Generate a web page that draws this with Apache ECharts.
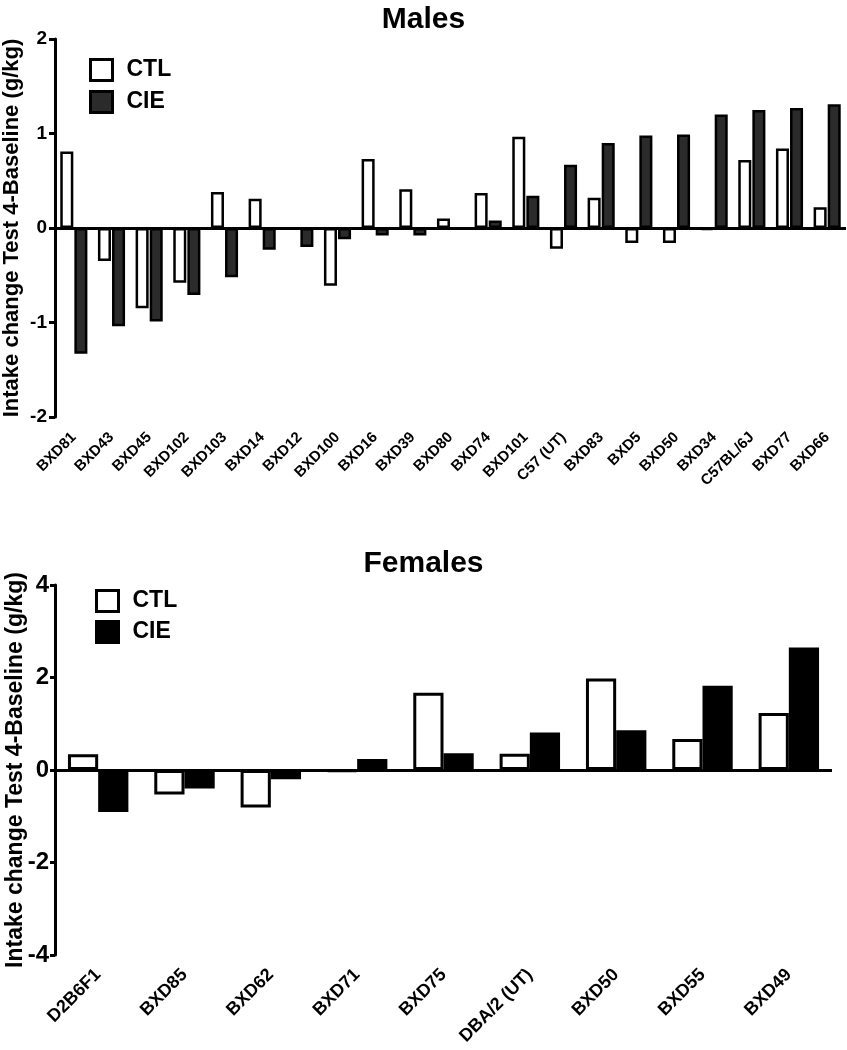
<!DOCTYPE html>
<html><head><meta charset="utf-8">
<script src="https://cdn.jsdelivr.net/npm/echarts@6/dist/echarts.min.js"></script>
<style>html,body{margin:0;padding:0;background:#fff}#c{width:847px;height:1050px}</style>
</head><body><div id="c"></div>
<script>
const maleCats = ['BXD81','BXD43','BXD45','BXD102','BXD103','BXD14','BXD12','BXD100','BXD16','BXD39','BXD80','BXD74','BXD101','C57 (UT)','BXD83','BXD5','BXD50','BXD34','C57BL/6J','BXD77','BXD66'];
const maleCTL = [0.81,-0.35,-0.85,-0.58,0.38,0.31,-0.01,-0.61,0.73,0.41,0.10,0.37,0.965,-0.22,0.32,-0.16,-0.16,-0.02,0.72,0.84,0.22];
const maleCIE = [-1.33,-1.04,-0.99,-0.71,-0.52,-0.23,-0.20,-0.12,-0.08,-0.08,-0.01,0.08,0.34,0.67,0.90,0.98,0.99,1.20,1.25,1.27,1.31];
const femaleCats = ['D2B6F1','BXD85','BXD62','BXD71','BXD75','DBA/2 (UT)','BXD50','BXD55','BXD49'];
const femaleCTL = [0.34,-0.53,-0.81,-0.03,1.67,0.35,1.98,0.67,1.23];
const femaleCIE = [-0.91,-0.40,-0.20,0.24,0.36,0.81,0.86,1.82,2.65];
const maleTicks = [-2,-1,0,1,2];
const femaleTicks = [-4,-2,0,2,4];

const FONT = 'Liberation Sans, Arial, sans-serif';
const yName = 'Intake change Test 4-Baseline (g/kg)';
const chart = echarts.init(document.getElementById('c'));

function yAxis(idx, ticks, interval, nameSize, nameGap, labelSize, labelMargin, tickLen){
  return {
    type:'value', gridIndex:idx, min:ticks[0], max:ticks[ticks.length-1], interval:interval,
    name:yName, nameLocation:'middle', nameGap:nameGap, nameMoveOverlap:false,
    nameTextStyle:{fontFamily:FONT,fontWeight:'bold',fontSize:nameSize,color:'#000'},
    axisLine:{show:true,lineStyle:{color:'#000',width:3}},
    axisTick:{show:true,length:tickLen,lineStyle:{color:'#000',width:3}},
    axisLabel:{fontFamily:FONT,fontWeight:'bold',fontSize:labelSize,color:'#000',margin:labelMargin},
    splitLine:{show:false}
  };
}
function xAxis(idx, cats, fs, margin){
  return {
    type:'category', gridIndex:idx, data:cats, position:'bottom',
    axisLine:{show:false,onZero:false}, axisTick:{show:false},
    axisLabel:{interval:0,rotate:45,fontFamily:FONT,fontWeight:'bold',fontSize:fs,color:'#000',margin:margin}
  };
}
const zeroLine = {silent:true,symbol:'none',label:{show:false},lineStyle:{color:'#000',width:3,type:'solid'},data:[{yAxis:0}]};
const legText = {fontFamily:FONT,fontWeight:'bold',fontSize:23,color:'#000',padding:[0,0,0,9],lineHeight:22};

chart.setOption({
  animation:false,
  backgroundColor:'#fff',
  title:[
    {text:'Males',left:'center',top:0,textStyle:{fontFamily:FONT,fontWeight:'bold',fontSize:30,color:'#000'}},
    {text:'Females',left:'center',top:544,textStyle:{fontFamily:FONT,fontWeight:'bold',fontSize:30,color:'#000'}}
  ],
  legend:[
    {orient:'vertical',left:84,top:53,itemWidth:22,itemHeight:21,itemGap:8,icon:'rect',textStyle:legText,
     data:[{name:'CTL',itemStyle:{color:'#fff',borderColor:'#000',borderWidth:3}},{name:'CIE',itemStyle:{color:'#2b2b2b',borderColor:'#000',borderWidth:3}}]},
    {orient:'vertical',left:90,top:584,itemWidth:22,itemHeight:21,itemGap:7,icon:'rect',textStyle:legText,
     data:[{name:'CTL',itemStyle:{color:'#fff',borderColor:'#000',borderWidth:3}},{name:'CIE',itemStyle:{color:'#000',borderColor:'#000',borderWidth:3}}]}
  ],
  grid:[
    {left:55,right:1,top:39,bottom:633,containLabel:false,outerBoundsMode:'none'},
    {left:55,right:15,top:585,bottom:95,containLabel:false,outerBoundsMode:'none'}
  ],
  xAxis:[xAxis(0,maleCats,15,18), xAxis(1,femaleCats,18,17)],
  yAxis:[yAxis(0,maleTicks,1,22,32,19,8,6), yAxis(1,femaleTicks,2,23,28,24,6,5)],
  series:[
    {name:'CTL',type:'bar',xAxisIndex:0,yAxisIndex:0,data:maleCTL,barCategoryGap:'28%',barGap:'8%',
     itemStyle:{color:'#fff',borderColor:'#000',borderWidth:2.5}, markLine:zeroLine},
    {name:'CIE',type:'bar',xAxisIndex:0,yAxisIndex:0,data:maleCIE,barCategoryGap:'28%',barGap:'8%',
     itemStyle:{color:'#2b2b2b',borderColor:'#000',borderWidth:2.5}},
    {name:'CTL',type:'bar',xAxisIndex:1,yAxisIndex:1,data:femaleCTL,barCategoryGap:'30%',barGap:'0%',
     itemStyle:{color:'#fff',borderColor:'#000',borderWidth:3}, markLine:zeroLine},
    {name:'CIE',type:'bar',xAxisIndex:1,yAxisIndex:1,data:femaleCIE,barCategoryGap:'30%',barGap:'0%',
     itemStyle:{color:'#000',borderColor:'#000',borderWidth:3}}
  ]
});
</script></body></html>
